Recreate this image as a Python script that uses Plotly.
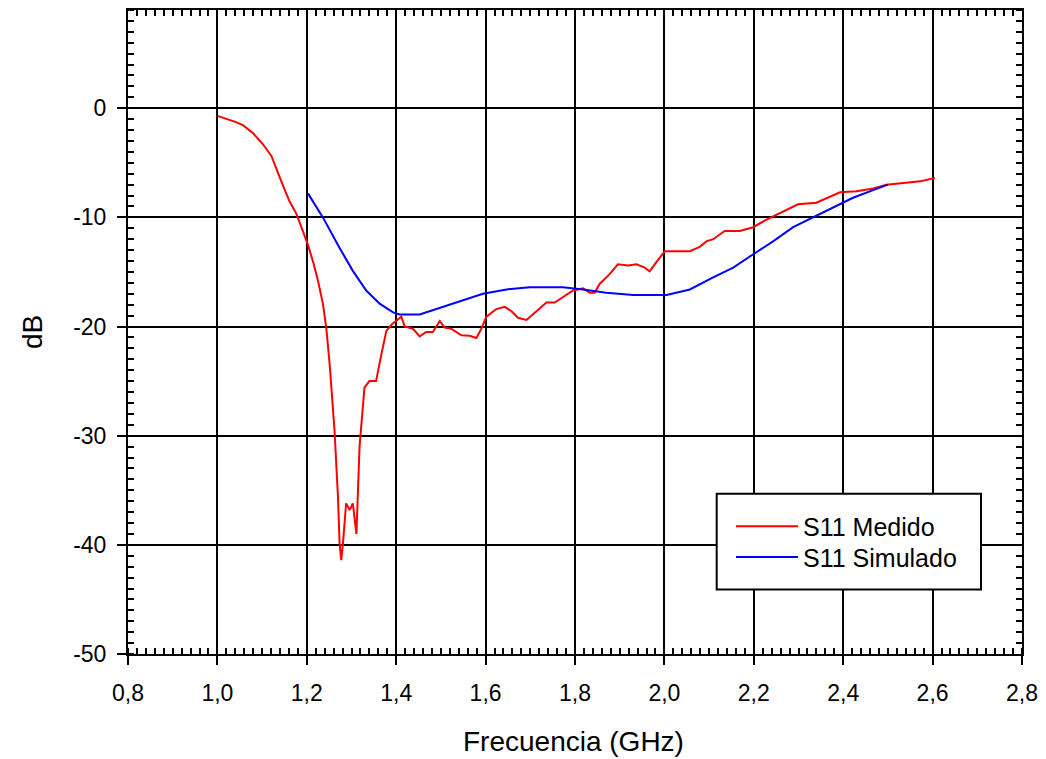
import plotly.graph_objects as go

# ---- data ----
med_f = [1.000, 1.020, 1.040, 1.057, 1.080, 1.102, 1.121, 1.143, 1.161, 1.177,
         1.190, 1.2025, 1.215, 1.225, 1.236, 1.2435, 1.251, 1.262, 1.2697, 1.2734,
         1.277, 1.2808, 1.288, 1.296, 1.303, 1.311, 1.318, 1.329, 1.340, 1.355,
         1.367, 1.378, 1.390, 1.400, 1.4115, 1.419, 1.430, 1.4375, 1.4525, 1.4675,
         1.482, 1.4975, 1.5085, 1.523, 1.5458, 1.5645, 1.5794, 1.5905, 1.6018, 1.624,
         1.643, 1.658, 1.6725, 1.6913, 1.714, 1.736, 1.7547, 1.773, 1.7956, 1.818,
         1.833, 1.844, 1.855, 1.8775, 1.896, 1.9187, 1.9375, 1.956, 1.967, 1.982,
         2.001, 2.030, 2.057, 2.079, 2.094, 2.109, 2.135, 2.169, 2.1985, 2.2285,
         2.258, 2.299, 2.340, 2.363, 2.393, 2.430, 2.467, 2.497, 2.527, 2.572, 2.605]
med_db = [-0.7, -0.95, -1.25, -1.55, -2.3, -3.3, -4.4, -6.7, -8.5, -9.7,
          -11.1, -12.5, -14.2, -15.8, -17.9, -20.1, -23.4, -29.5, -35.6, -39.9,
          -41.4, -39.9, -36.2, -36.8, -36.2, -39.0, -31.0, -25.6, -25.0, -25.0,
          -22.5, -20.4, -19.8, -19.5, -19.1, -20.0, -20.1, -20.2, -20.9, -20.5,
          -20.5, -19.5, -20.1, -20.2, -20.8, -20.85, -21.05, -20.2, -19.1, -18.4,
          -18.2, -18.6, -19.2, -19.4, -18.6, -17.8, -17.8, -17.3, -16.7, -16.5,
          -16.9, -16.9, -16.1, -15.2, -14.3, -14.4, -14.3, -14.6, -14.95, -14.1,
          -13.1, -13.1, -13.1, -12.7, -12.2, -12.0, -11.25, -11.25, -10.9, -10.2,
          -9.6, -8.8, -8.65, -8.25, -7.7, -7.6, -7.35, -7.0, -6.9, -6.7, -6.4]

sim_f = [1.2025, 1.236, 1.2734, 1.303, 1.333, 1.363, 1.393, 1.408, 1.4525, 1.49,
         1.5346, 1.594, 1.647, 1.699, 1.773, 1.818, 1.870, 1.930, 2.005, 2.057,
         2.109, 2.154, 2.198, 2.243, 2.288, 2.333, 2.378, 2.422, 2.467, 2.500]
sim_db = [-7.8, -10.0, -12.8, -14.9, -16.7, -17.9, -18.7, -18.9, -18.9, -18.4,
          -17.8, -17.0, -16.6, -16.4, -16.4, -16.6, -16.9, -17.1, -17.1, -16.6,
          -15.5, -14.6, -13.4, -12.2, -10.9, -10.0, -9.1, -8.2, -7.5, -7.0]

x_tickvals = [0.8, 1.0, 1.2, 1.4, 1.6, 1.8, 2.0, 2.2, 2.4, 2.6, 2.8]
x_ticktext = ["0,8", "1,0", "1,2", "1,4", "1,6", "1,8", "2,0", "2,2", "2,4", "2,6", "2,8"]
y_tickvals = [-50, -40, -30, -20, -10, 0]
y_ticktext = ["-50", "-40", "-30", "-20", "-10", "0"]

series_names = ["S11 Medido", "S11 Simulado"]
x_title = "Frecuencia (GHz)"
y_title = "dB"

FONT = "Liberation Sans, Arial, sans-serif"

fig = go.Figure()
fig.add_trace(go.Scatter(x=med_f, y=med_db, mode="lines", name=series_names[0],
                         line=dict(color="#ff0000", width=2), legend="legend"))
fig.add_trace(go.Scatter(x=sim_f, y=sim_db, mode="lines", name=series_names[1],
                         line=dict(color="#0000ff", width=2), legend="legend2"))
# dummy trace for mirrored tick axes
fig.add_trace(go.Scatter(x=[None], y=[None], xaxis="x2", yaxis="y2",
                         showlegend=False, hoverinfo="skip"))

xr = [0.8, 2.8]
yr = [-50, 9]

L, R, T, B = 128, 24, 8, 105
PW = 1046 - L - R
PH = 759 - T - B


def px_x(p):
    return (p - L) / PW


def px_y(p):
    return (759 - B - p) / PH


def leg(center_y):
    return dict(x=px_x(731), y=px_y(center_y), xanchor="left", yanchor="middle",
                bgcolor="rgba(0,0,0,0)", borderwidth=0,
                font=dict(size=25, family=FONT), itemwidth=62)


fig.update_layout(
    width=1046, height=759,
    margin=dict(l=L, r=R, t=T, b=B),
    paper_bgcolor="white", plot_bgcolor="white",
    font=dict(family=FONT, color="black", size=23),
    xaxis=dict(range=xr, tickmode="array", tickvals=x_tickvals, ticktext=x_ticktext,
               showgrid=True, gridcolor="black", gridwidth=2, zeroline=False,
               showline=True, linecolor="black", linewidth=2, mirror=True,
               ticks="outside", ticklen=9, tickwidth=2, tickcolor="black",
               ticklabelstandoff=8,
               minor=dict(tickmode="linear", tick0=0.8, dtick=0.02, ticks="inside",
                          ticklen=6, tickwidth=1.5, tickcolor="black", showgrid=False),
               tickfont=dict(size=23)),
    yaxis=dict(range=yr, tickmode="array", tickvals=y_tickvals, ticktext=y_ticktext,
               showgrid=True, gridcolor="black", gridwidth=2, zeroline=False,
               showline=True, linecolor="black", linewidth=2, mirror=True,
               ticks="outside", ticklen=9, tickwidth=2, tickcolor="black",
               ticklabelstandoff=6,
               minor=dict(tickmode="linear", tick0=0, dtick=1, ticks="inside",
                          ticklen=6, tickwidth=1.5, tickcolor="black", showgrid=False),
               tickfont=dict(size=23)),
    xaxis2=dict(range=xr, overlaying="x", side="top", showticklabels=False,
                showgrid=False, zeroline=False, showline=False,
                ticks="", tickmode="linear", tick0=0.8, dtick=0.2,
                minor=dict(tickmode="linear", tick0=0.8, dtick=0.02, ticks="inside",
                           ticklen=6, tickwidth=1.5, tickcolor="black", showgrid=False)),
    yaxis2=dict(range=yr, overlaying="y", side="right", showticklabels=False,
                showgrid=False, zeroline=False, showline=False,
                ticks="", tickmode="linear", tick0=0, dtick=10,
                minor=dict(tickmode="linear", tick0=0, dtick=1, ticks="inside",
                           ticklen=6, tickwidth=1.5, tickcolor="black", showgrid=False)),
    showlegend=True,
    legend=leg(526),
    legend2=leg(557),
    shapes=[dict(type="rect", xref="paper", yref="paper",
                 x0=px_x(716.7), x1=px_x(981),
                 y0=px_y(589.3), y1=px_y(493.3),
                 fillcolor="white", line=dict(color="black", width=2), layer="above")],
    annotations=[
        dict(text=x_title, xref="paper", yref="paper", x=px_x(573),
             y=px_y(742), xanchor="center", yanchor="middle",
             showarrow=False, font=dict(size=28, family=FONT)),
        dict(text=y_title, xref="paper", yref="paper", x=px_x(32),
             y=px_y(331), xanchor="center", yanchor="middle",
             showarrow=False, textangle=-90, font=dict(size=28, family=FONT)),
    ],
)

fig.write_html("out.html")
